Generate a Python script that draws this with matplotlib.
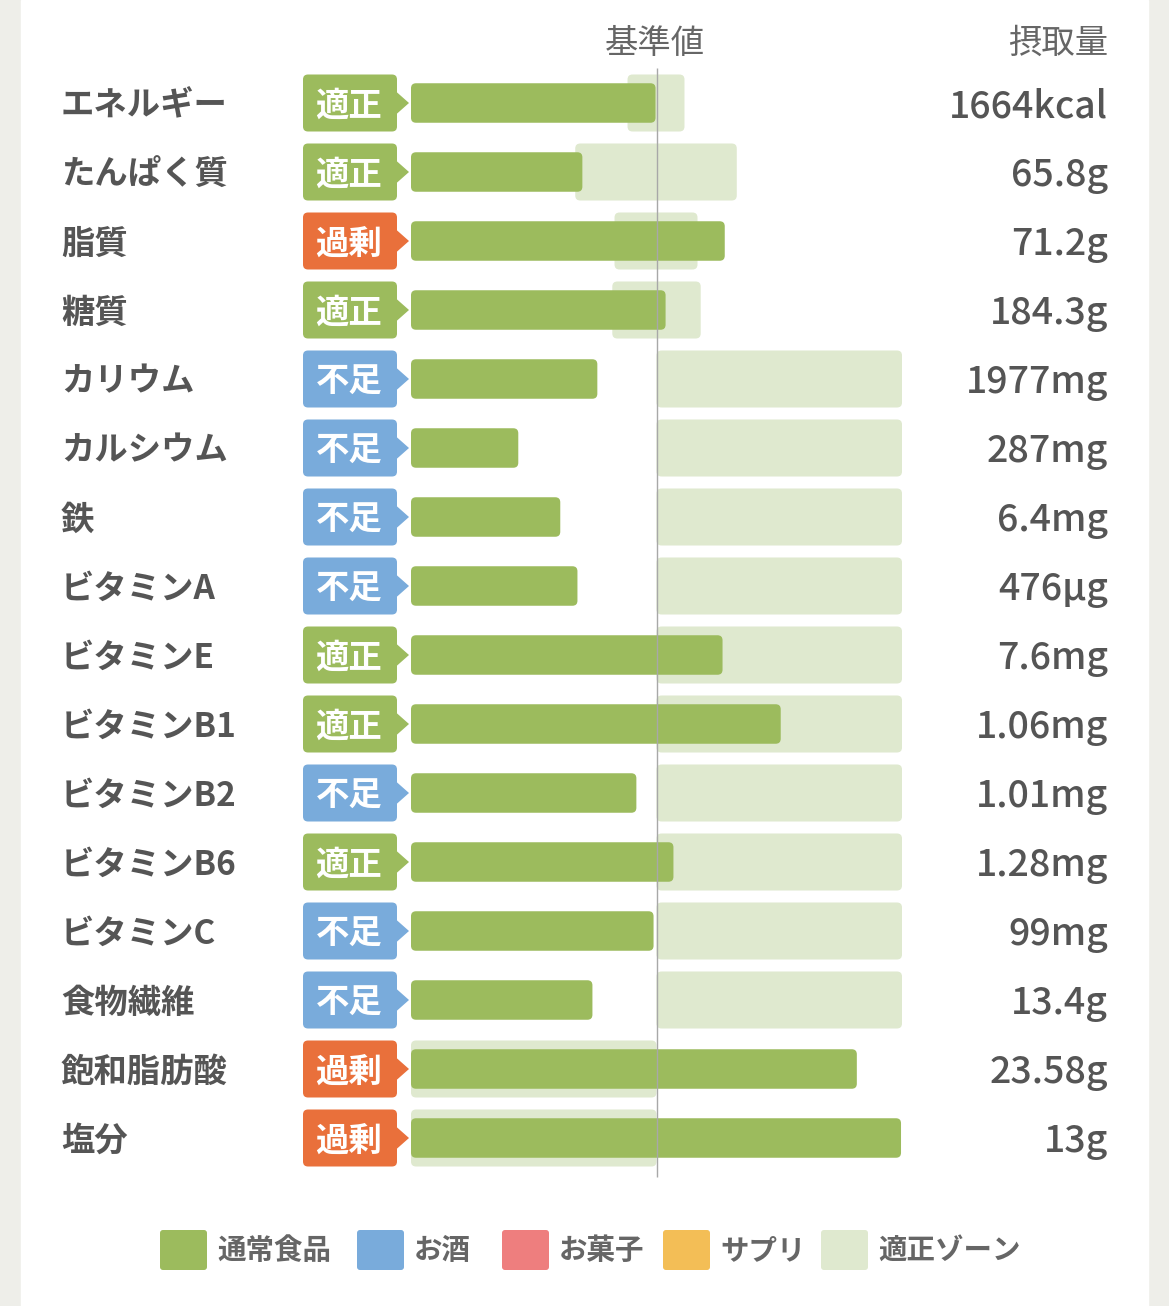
import matplotlib
matplotlib.use('Agg')
import matplotlib.pyplot as plt
from matplotlib.patches import FancyBboxPatch, Polygon, Rectangle

plt.rcParams['font.family'] = ['Noto Sans CJK JP', 'DejaVu Sans']

# ---------------- data ----------------
nutrients = ['エネルギー', 'たんぱく質', '脂質', '糖質', 'カリウム', 'カルシウム', '鉄',
             'ビタミンA', 'ビタミンE', 'ビタミンB1', 'ビタミンB2', 'ビタミンB6',
             'ビタミンC', '食物繊維', '飽和脂肪酸', '塩分']
status = ['適正', '適正', '過剰', '適正', '不足', '不足', '不足', '不足',
          '適正', '適正', '不足', '適正', '不足', '不足', '過剰', '過剰']
# intake as % of reference value (100 = 基準値)
intake_pct = [99.6, 69.8, 127.8, 103.7, 75.9, 43.7, 60.8, 67.8,
              126.9, 150.6, 91.8, 106.9, 98.8, 73.9, 181.6, 199.6]
zone_low = [88.2, 66.9, 82.9, 82.0, 100, 100, 100, 100,
            100, 100, 100, 100, 100, 100, 0, 0]
zone_high = [111.4, 132.7, 116.7, 118.0, 200, 200, 200, 200,
             200, 200, 200, 200, 200, 200, 100, 100]
intake_labels = ['1664kcal', '65.8g', '71.2g', '184.3g', '1977mg', '287mg', '6.4mg',
                 '476µg', '7.6mg', '1.06mg', '1.01mg', '1.28mg', '99mg', '13.4g',
                 '23.58g', '13g']
reference_value = 100
legend_labels = ['通常食品', 'お酒', 'お菓子', 'サプリ', '適正ゾーン']

# ---------------- style ----------------
GREEN = '#9cbb5d'
ZONE = '#dfe9cf'
BLUE = '#79abdb'
ORANGE = '#e9703b'
PINK = '#ee7e7e'
YELLOW = '#f3be56'
TXT = '#555555'
status_color = {'適正': GREEN, '過剰': ORANGE, '不足': BLUE}
legend_colors = [GREEN, BLUE, PINK, YELLOW, ZONE]

W, H = 1169, 1306
ROW0, ROWH = 103, 69
def yrow(px):
    return (px - ROW0) / ROWH

fig = plt.figure(figsize=(W / 100, H / 100), dpi=100)
fig.patch.set_facecolor('#eeeee9')

bg = fig.add_axes([0, 0, 1, 1])
bg.set_xlim(0, W)
bg.set_ylim(yrow(H), yrow(0))
bg.axis('off')
bg.add_patch(Rectangle((21, yrow(H)), 1148 - 21, yrow(0) - yrow(H), color='white', zorder=0))

# bar axes: 0..200 %
X0 = 411
PXP = 2.455
ax = fig.add_axes([X0 / W, 0, 200 * PXP / W, 1])
ax.set_xlim(0, 200)
ax.set_ylim(yrow(H), yrow(0))
ax.axis('off')
ax.patch.set_alpha(0)

rows = list(range(len(nutrients)))

def round_bars(container, color, r_px, z):
    for b in container:
        x, y, w, h = b.get_x(), b.get_y(), b.get_width(), b.get_height()
        p = FancyBboxPatch((x, y), w, h,
                           boxstyle=f"round,pad=0,rounding_size={r_px / PXP}",
                           mutation_aspect=PXP / ROWH, facecolor=color,
                           edgecolor='none', zorder=z)
        ax.add_patch(p)
        b.set_visible(False)

zones = ax.barh(rows, [h - l for l, h in zip(zone_low, zone_high)], left=zone_low,
                height=57 / ROWH)
round_bars(zones, ZONE, 5, 1)
bars = ax.barh(rows, intake_pct, height=39.5 / ROWH)
round_bars(bars, GREEN, 5, 2)
ax.vlines(reference_value, yrow(68), yrow(1177), color='#a8a8a8', lw=1, zorder=3)

# badges, labels, values
for i, (name, st, val) in enumerate(zip(nutrients, status, intake_labels)):
    c = status_color[st]
    bg.add_patch(FancyBboxPatch((303, i - 28.5 / ROWH), 94, 57 / ROWH,
                                boxstyle="round,pad=0,rounding_size=5",
                                mutation_aspect=1 / ROWH, facecolor=c,
                                edgecolor='none', zorder=2))
    bg.add_patch(Polygon([(396, i - 11.5 / ROWH), (409, i), (396, i + 11.5 / ROWH)],
                         closed=True, facecolor=c, edgecolor='none', zorder=2))
    bg.text(349, i + 3 / ROWH, st, color='white', fontsize=24, fontweight='bold',
            ha='center', va='center', zorder=3)
    bg.text(61, i + 3 / ROWH, name, color=TXT, fontsize=24, fontweight='bold',
            ha='left', va='center', zorder=3)
    bg.text(1108, i + 14 / ROWH, val, color=TXT, fontsize=27, fontweight='medium',
            ha='right', va='baseline', zorder=3)

bg.text(655, yrow(43), '基準値', color='#666666', fontsize=24, ha='center', va='center')
bg.text(1108, yrow(43), '摂取量', color='#666666', fontsize=24, ha='right', va='center')

# legend
leg_x = [160, 357, 502, 663, 821]
ly = yrow(1250)
for x, lab, col in zip(leg_x, legend_labels, legend_colors):
    bg.add_patch(FancyBboxPatch((x, ly - 20 / ROWH), 47, 40 / ROWH,
                                boxstyle="round,pad=0,rounding_size=3",
                                mutation_aspect=1 / ROWH, facecolor=col,
                                edgecolor='none', zorder=2))
    bg.text(x + 57, ly + 1 / ROWH, lab, color='#666666', fontsize=20.5, fontweight='bold',
            ha='left', va='center', zorder=3)

fig.savefig('out.png', dpi=100, facecolor=fig.get_facecolor())
